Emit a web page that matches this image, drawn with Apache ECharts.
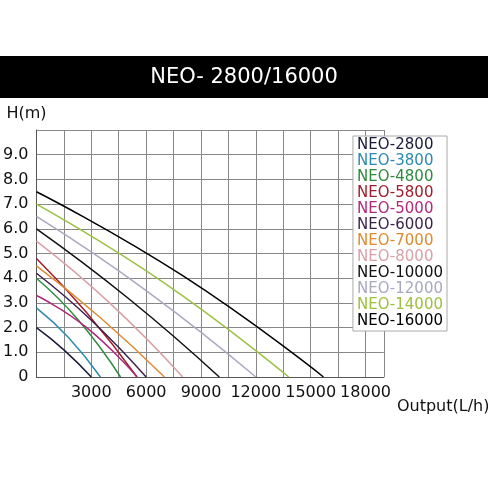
<!DOCTYPE html><html><head><meta charset="utf-8">
<script src="https://cdn.jsdelivr.net/npm/echarts@6/dist/echarts.min.js"></script>
<style>html,body{margin:0;background:#fff}#c{width:488px;height:488px}</style></head><body><div id="c"></div>
<script>
const names=['NEO-2800','NEO-3800','NEO-4800','NEO-5800','NEO-5000','NEO-6000','NEO-7000','NEO-8000','NEO-10000','NEO-12000','NEO-14000','NEO-16000'];
const colors=['#1a1a3a','#2a8ab0','#2e8b3e','#a01c2c','#b0287a','#3a1f4a','#e08a30','#d9a0a8','#111111','#a8a8c0','#9cc040','#000000'];
const flows=[
 [0,1500,3000],
 [0,1750,3500],
 [0,2300,4600],
 [0,2750,5500],
 [0,2750,5500],
 [0,3000,6000],
 [0,3500,7000],
 [0,4000,8000],
 [0,5000,10000],
 [0,6000,12000],
 [0,7000,13800],
 [0,8000,15700]];
const heads=[
 [2.0,1.1,0],
 [2.8,1.6,0],
 [4.0,2.3,0],
 [4.8,2.6,0],
 [3.3,2.0,0],
 [4.2,2.3,0],
 [4.5,2.4,0],
 [5.5,3.0,0],
 [6.0,3.2,0],
 [6.5,3.5,0],
 [7.0,3.8,0],
 [7.5,4.1,0]];
const yTicks=['0','1.0','2.0','3.0','4.0','5.0','6.0','7.0','8.0','9.0'];
const chart=echarts.init(document.getElementById('c'));
chart.setOption({
 animation:false,
 title:{text:'NEO- 2800/16000',left:'center',top:62,textStyle:{color:'#fff',fontSize:21,fontWeight:'normal',fontFamily:'DejaVu Sans'}},
 graphic:[{type:'rect',shape:{x:0,y:56,width:488,height:42},style:{fill:'#000'},z:-1}],
 grid:{left:32,right:25,top:130,bottom:111},
 legend:{orient:'vertical',right:41,top:136,itemWidth:0,itemHeight:0,itemGap:1,padding:[2,4],
   backgroundColor:'#fff',borderColor:'#aaa',borderWidth:1,
   data:names.map((n,i)=>({name:n,textStyle:{color:colors[i]}})),
   textStyle:{fontSize:15,fontFamily:'DejaVu Sans',padding:[0,0,0,-6]}},
 xAxis:{type:'value',min:0,max:19000,interval:1500,
   axisLine:{show:true,lineStyle:{color:'#555'}},axisTick:{show:false},
   splitLine:{lineStyle:{color:'#888'}},
   axisLabel:{color:'#111',fontSize:16,fontFamily:'DejaVu Sans',formatter:v=>(v>0&&v%3000===0&&v<=18000)?String(v):''},
   name:'Output(L/h)',nameLocation:'end',nameGap:-105,nameTextStyle:{color:'#111',fontSize:16,fontFamily:'DejaVu Sans',verticalAlign:'top',padding:[22,0,0,0]}},
 yAxis:{type:'value',min:0,max:10,interval:1,
   axisLine:{show:true,lineStyle:{color:'#555'}},axisTick:{show:false},
   splitLine:{lineStyle:{color:'#888'}},
   axisLabel:{color:'#111',fontSize:16,fontFamily:'DejaVu Sans',formatter:v=>yTicks[v]||''},
   name:'H(m)',nameLocation:'end',nameGap:8,nameTextStyle:{color:'#111',fontSize:16,fontFamily:'DejaVu Sans',align:'left',padding:[0,0,0,-30]}},
 series:names.map((n,i)=>({name:n,type:'line',smooth:true,symbol:'none',
   lineStyle:{color:colors[i],width:1.5},itemStyle:{color:colors[i]},
   data:flows[i].map((f,j)=>[f,heads[i][j]])}))
});
</script></body></html>
